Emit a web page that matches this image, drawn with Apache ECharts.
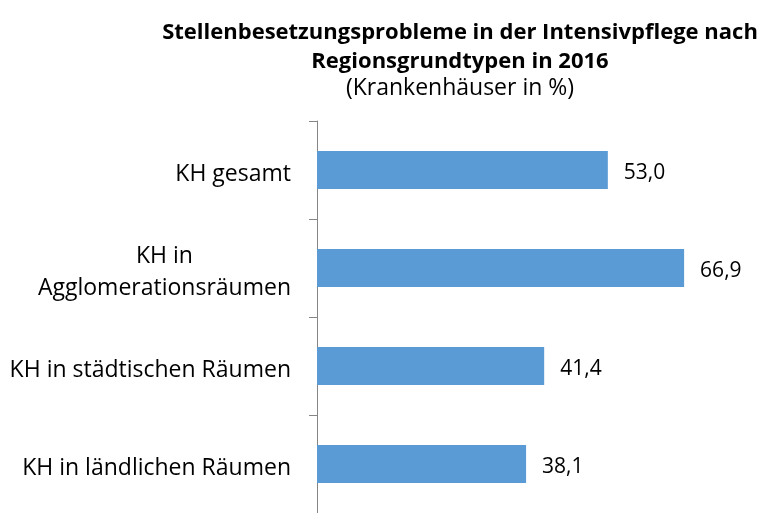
<!DOCTYPE html>
<html>
<head>
<meta charset="utf-8">
<script src="https://cdn.jsdelivr.net/npm/echarts@6/dist/echarts.min.js"></script>
<style>
html, body { margin: 0; padding: 0; background: #fff; }
#main { width: 761px; height: 513px; }
</style>
</head>
<body>
<div id="main"></div>
<script>
// Kategorien (von oben nach unten) und Werte in %
var categories = ['KH gesamt', 'KH in\nAgglomerationsräumen', 'KH in städtischen Räumen', 'KH in ländlichen Räumen'];
var values = [53.0, 66.9, 41.4, 38.1];

var chart = echarts.init(document.getElementById('main'));

var option = {
    backgroundColor: '#fff',
    textStyle: { fontFamily: 'Open Sans' },
    title: {
        text: 'Stellenbesetzungsprobleme in der Intensivpflege nach\nRegionsgrundtypen in 2016',
        subtext: '(Krankenhäuser in %)',
        left: 455,
        top: 13,
        textAlign: 'center',
        itemGap: -2,
        textStyle: { fontFamily: 'Open Sans', fontWeight: 'bold', fontSize: 22, lineHeight: 29, color: '#000' },
        subtextStyle: { fontFamily: 'Open Sans', fontSize: 23, lineHeight: 28, color: '#000' }
    },
    grid: { left: 317, right: 5, top: 121, bottom: -5, containLabel: false },
    xAxis: {
        type: 'value',
        min: 0,
        max: 80,
        show: false,
        splitLine: { show: false }
    },
    yAxis: {
        type: 'category',
        data: categories,
        inverse: true,
        axisLine: { show: true, lineStyle: { color: '#868686', width: 1 } },
        axisTick: { show: true, length: 8, lineStyle: { color: '#868686', width: 1 } },
        axisLabel: {
            margin: 26,
            fontSize: 23,
            lineHeight: 32,
            color: '#000',
            fontFamily: 'Open Sans',
            padding: [8, 0, 0, 0],
            formatter: function (v) {
                return v.split('\n').map(function (s) { return '{c|' + s + '}'; }).join('\n');
            },
            rich: { c: { align: 'center', fontSize: 23, lineHeight: 32, color: '#000', fontFamily: 'Open Sans' } }
        }
    },
    series: [{
        type: 'bar',
        data: values,
        barWidth: 38,
        itemStyle: { color: '#5B9BD5' },
        label: {
            show: true,
            position: 'right',
            distance: 16,
            offset: [0, 3],
            fontSize: 21,
            color: '#000',
            fontFamily: 'Open Sans',
            formatter: function (p) { return p.value.toFixed(1).replace('.', ','); }
        },
        animation: false
    }],
    animation: false
};

chart.setOption(option);
</script>
</body>
</html>
